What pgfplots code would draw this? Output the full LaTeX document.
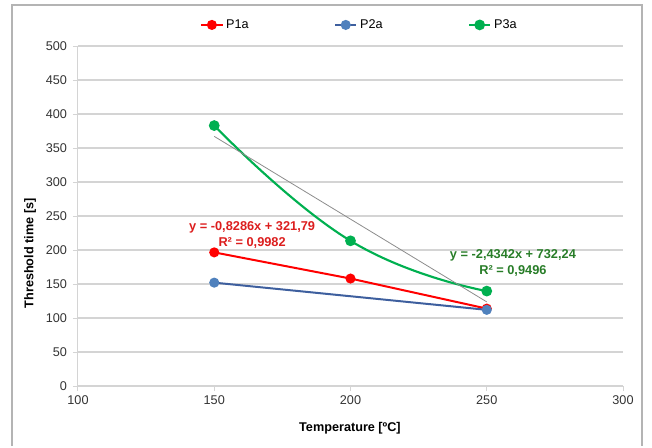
\documentclass[border=0pt]{standalone}
\usepackage{fontspec}
\setmainfont{Liberation Sans}
\usepackage{pgfplots}
\pgfplotsset{compat=1.18}
\definecolor{pred}{RGB}{255,0,0}
\definecolor{pblue}{RGB}{79,129,189}
\definecolor{pblueline}{RGB}{62,95,158}
\definecolor{pgreen}{RGB}{0,176,80}
\definecolor{eqgreen}{RGB}{40,125,40}
\definecolor{eqred}{RGB}{220,30,30}
\definecolor{gridc}{RGB}{212,212,212}
\definecolor{framec}{RGB}{180,180,180}
\definecolor{trendc}{RGB}{140,140,140}
\begin{document}
\begin{tikzpicture}
\begin{scope}[x=0.75pt,y=0.75pt]
\useasboundingbox (-78,-55) rectangle (574,386);
\end{scope}
\begin{axis}[
  at={(0,0)}, anchor=south west,
  scale only axis, width=408.75pt, height=255pt,
  xmin=100, xmax=300, ymin=0, ymax=500,
  xtick={100,150,...,300}, ytick={0,50,...,500},
  axis x line*=bottom, axis y line*=left,
  axis line style={gridc, line width=0.75pt},
  ymajorgrids, grid style={gridc, line width=0.9pt},
  tick align=outside, major tick length=3.75pt,
  tick style={gridc, line width=0.75pt},
  /pgf/number format/assume math mode=true,
  tick label style={font=\fontsize{9.5}{11}\selectfont, text=black!80},
  yticklabel style={xshift=-1pt},
  xlabel={\textbf{Temperature [ºC]}},
  ylabel={\textbf{Threshold time [s]}},
  label style={font=\fontsize{9.5}{11}\selectfont},
  xlabel style={at={(axis description cs:0.499,-0.1235)}, anchor=center},
  ylabel style={at={(axis description cs:-0.088,0.39)}, anchor=center},
  legend columns=3,
  legend style={draw=none, fill=none, at={(axis description cs:0.517,1.062)}, anchor=center,
    font=\fontsize{9.5}{11}\selectfont, /tikz/every even column/.append style={column sep=62pt}},
  legend image code/.code={\draw[#1] (0pt,0pt) -- (16pt,0pt); \draw[#1, mark repeat=1] plot coordinates {(8pt,0pt)};},
]
\addplot[pred, line width=1.5pt, mark=*, mark size=3pt, mark options={fill=pred, draw=pred}]
  coordinates {(150,196.5) (200,158) (250,113.8)};
\addlegendentry{P1a}
\addplot[pblueline, line width=1.5pt, mark=*, mark size=3pt, mark options={fill=pblue, draw=pblue}]
  coordinates {(150,152) (250,112)};
\addlegendentry{P2a}
\addplot[pgreen, line width=1.6pt, smooth, tension=0.8, mark=*, mark size=3.2pt, mark options={fill=pgreen, draw=pgreen}]
  coordinates {(150,383) (200,213.5) (250,139.6)};
\addlegendentry{P3a}
\addplot[trendc, line width=0.6pt, forget plot]
  coordinates {(150,367.1) (250,123.7)};
\node[text=eqred, font=\bfseries\fontsize{9.6}{12}\selectfont, align=center] at (axis cs:163.9,221.5)
  {y = -0,8286x + 321,79\\R² = 0,9982};
\node[text=eqgreen, font=\bfseries\fontsize{9.6}{12}\selectfont, align=center] at (axis cs:259.6,181)
  {y = -2,4342x + 732,24\\R² = 0,9496};
\end{axis}
\begin{scope}[x=0.75pt,y=0.75pt]
\draw[framec, line width=1.5pt] (-66,-60) -- (-66,381) -- (564,381) -- (564,-60);
\end{scope}
\end{tikzpicture}
\end{document}
